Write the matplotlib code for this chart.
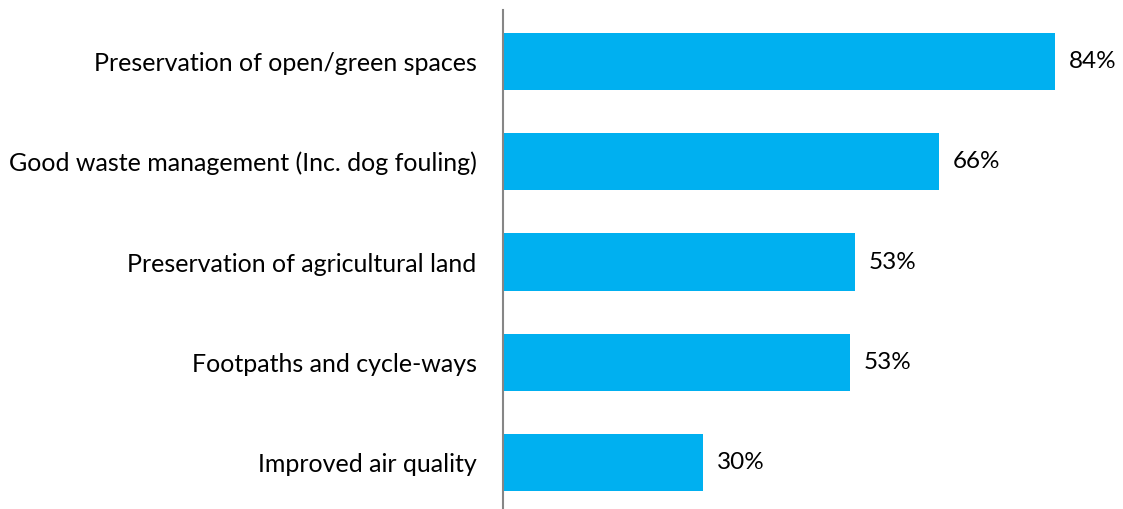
import matplotlib.pyplot as plt

plt.rcParams['font.family'] = ['Lato', 'DejaVu Sans']

categories = [
    "Preservation of open/green spaces",
    "Good waste management (Inc. dog fouling)",
    "Preservation of agricultural land",
    "Footpaths and cycle-ways",
    "Improved air quality",
]
values = [84, 66.4, 53.6, 52.8, 30.4]
labels = ["84%", "66%", "53%", "53%", "30%"]

fig = plt.figure(figsize=(11.23, 5.09), dpi=100)
ax = fig.add_axes([503 / 1123, 1 / 509, 620 / 1123, 498 / 509])

y = list(range(len(categories)))
bars = ax.barh(y, values, height=0.57, color="#00B0F0")
ax.set_xlim(0, 620 / 6.57)
ax.set_ylim(4.45, -0.51)

for b, lab in zip(bars, labels):
    ax.text(b.get_width() + 2.1, b.get_y() + b.get_height() / 2, lab,
            va="center", ha="left", fontsize=17.5, color="#000000")

ax.set_yticks(y)
ax.set_yticklabels(categories, fontsize=18)
ax.tick_params(axis="y", length=0, pad=19)
ax.set_xticks([])
for s in ["top", "right", "bottom"]:
    ax.spines[s].set_visible(False)
ax.spines["left"].set_color("#868686")
ax.spines["left"].set_linewidth(1.5)

fig.savefig("out.png", dpi=100)
